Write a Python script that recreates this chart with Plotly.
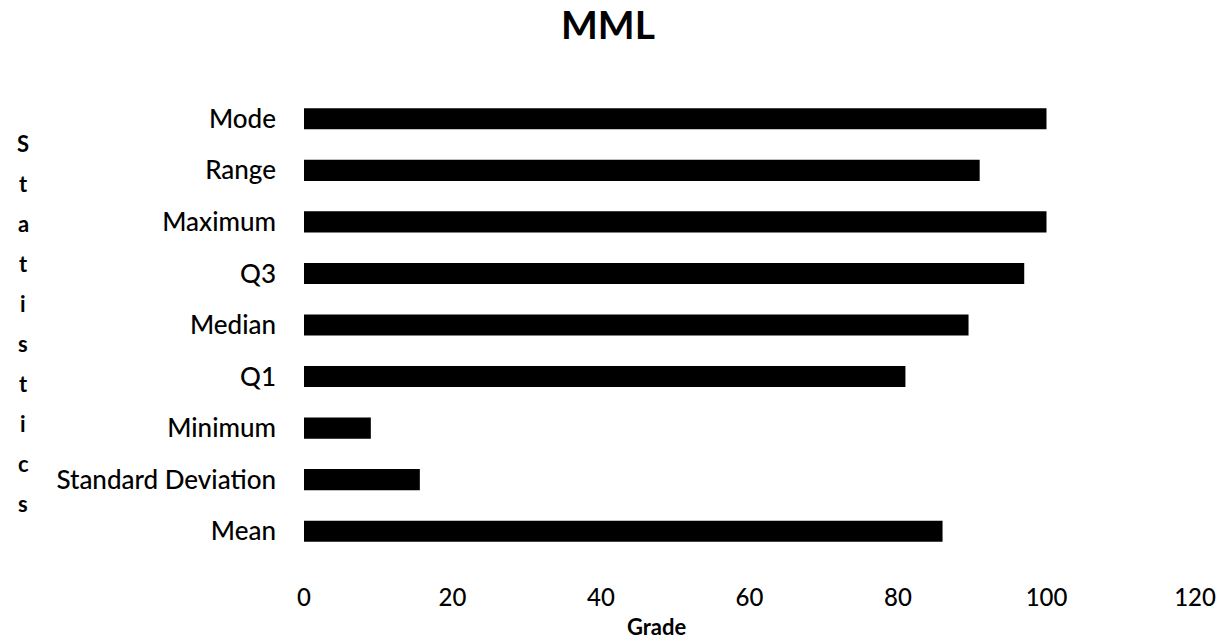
import plotly.graph_objects as go

categories = ["Mean", "Standard Deviation", "Minimum", "Q1", "Median", "Q3", "Maximum", "Range", "Mode"]
values = [86, 15.6, 9, 81, 89.5, 97, 100, 91, 100]
x_ticks = [0, 20, 40, 60, 80, 100, 120]
y_title_letters = list("Statistics")

FONT = "Lato"
W, H = 1221, 641
L, R, T, B = 304, 26, 93, 84
PW, PH = W - L - R, H - T - B

fig = go.Figure(
    go.Bar(
        y=categories,
        x=values,
        orientation="h",
        marker=dict(color="black", line=dict(width=0)),
        width=0.41,
    )
)

fig.update_layout(
    width=W,
    height=H,
    paper_bgcolor="white",
    plot_bgcolor="white",
    margin=dict(l=L, r=R, t=T, b=B, autoexpand=False),
    showlegend=False,
    font=dict(family=FONT, color="black", size=20),
    title=dict(
        text="<b>MML</b>",
        x=608 / W,
        xanchor="center",
        xref="container",
        y=1 - 25 / H,
        yanchor="middle",
        font=dict(family=FONT, size=39, color="black"),
    ),
)

fig.update_xaxes(
    range=[0, 120],
    tickvals=x_ticks,
    ticktext=[str(t) for t in x_ticks],
    showgrid=False,
    zeroline=False,
    showline=False,
    ticks="",
    automargin=False,
    ticklabelstandoff=24,
    tickfont=dict(family=FONT, size=24, color="black", weight=500),
)
fig.update_yaxes(
    categoryorder="array",
    categoryarray=categories,
    range=[-0.5, len(categories) - 0.5],
    showgrid=False,
    zeroline=False,
    showline=False,
    ticks="",
    automargin=False,
    ticklabelstandoff=27,
    tickfont=dict(family=FONT, size=26, color="black", weight=500),
)

fig.add_annotation(
    text="<b>Grade</b>",
    xref="paper", yref="paper",
    x=(657 - L) / PW,
    y=-(626 - (H - B)) / PH,
    xanchor="center", yanchor="middle",
    showarrow=False,
    font=dict(family=FONT, size=22, color="black"),
)

for i, c in enumerate(y_title_letters):
    py = 143 + 40 * i
    fig.add_annotation(
        text=f"<b>{c}</b>",
        xref="paper", yref="paper",
        x=-(L - 23) / PW,
        y=1 - (py - T) / PH,
        xanchor="center", yanchor="middle",
        showarrow=False,
        font=dict(family=FONT, size=22, color="black"),
    )

fig.write_html("out.html")
